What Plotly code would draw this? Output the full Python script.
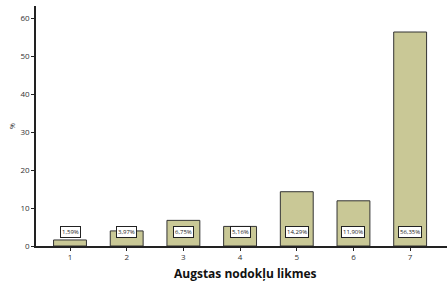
import plotly.graph_objects as go

categories = ["1", "2", "3", "4", "5", "6", "7"]
values = [1.59, 3.97, 6.75, 5.16, 14.29, 11.90, 56.35]
labels = ["1,59%", "3,97%", "6,75%", "5,16%", "14,29%", "11,90%", "56,35%"]
xpos = [1, 2, 3, 4, 5, 6, 7]

fig = go.Figure()
fig.add_trace(go.Bar(
    x=xpos, y=values, width=0.58,
    marker=dict(color="#c9c896", line=dict(color="#333333", width=1)),
    hoverinfo="skip",
))

for x, lab in zip(xpos, labels):
    fig.add_annotation(
        x=x, y=3.7, text=lab, showarrow=False,
        font=dict(family="Open Sans", size=6, color="#222"),
        bgcolor="white", bordercolor="#222", borderwidth=1, borderpad=1,
        xref="x", yref="y",
    )

fig.add_annotation(
    x=(245 - 36) / 411, xref="paper", y=(246 - 273) / 240, yref="paper", yanchor="middle",
    text="<b>Augstas nodokļu likmes</b>", showarrow=False,
    font=dict(family="Open Sans", size=12, color="#111"),
)
fig.add_annotation(
    x=(12 - 36) / 411, xref="paper", xanchor="center", y=0.5, yref="paper",
    text="%", textangle=-90, showarrow=False,
    font=dict(family="Open Sans", size=7, color="#333"),
)

fig.update_layout(
    width=447, height=282,
    margin=dict(l=36, r=0, t=6, b=36),
    paper_bgcolor="white", plot_bgcolor="white",
    showlegend=False,
    xaxis=dict(
        range=[0.4, 7.65], tickmode="array", tickvals=xpos, ticktext=categories,
        showline=True, linecolor="#222", linewidth=1.5, ticks="outside", ticklen=3,
        tickcolor="#222", showgrid=False, zeroline=False, automargin=False,
        tickfont=dict(family="Open Sans", size=8, color="#333"),
    ),
    yaxis=dict(
        range=[0, 63.2], tickvals=[0, 10, 20, 30, 40, 50, 60],
        showline=True, linecolor="#222", linewidth=1.5, ticks="outside", ticklen=3,
        tickcolor="#222", showgrid=False, zeroline=False, automargin=False,
        tickfont=dict(family="Open Sans", size=8, color="#333"),
    ),
)

fig.write_html(
    "out.html",
    config={"displayModeBar": False},
    post_script="document.body.style.margin='0';document.body.style.overflow='hidden';",
)
